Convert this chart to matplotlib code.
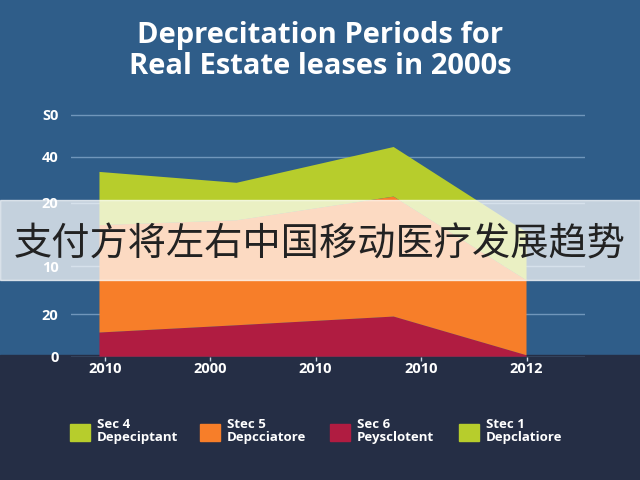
import matplotlib
matplotlib.use("Agg")
import matplotlib.pyplot as plt
from matplotlib.patches import Rectangle

# 数据
x_pos = [-0.05, 1.25, 2.74, 4.0]
sec6 = [5.0, 6.5, 8.3, 0.3]
sec5 = [22.2, 21.7, 24.8, 15.5]
sec4 = [11.0, 7.75, 10.25, 9.95]

x_ticks = [0, 1, 2, 3, 4]
x_labels = ["2010", "2000", "2010", "2010", "2012"]
y_ticks = [0, 8.8, 18.7, 31.8, 41.3, 50]
y_labels = ["0", "20", "10", "20", "40", "S0"]

legend_labels = ["Sec 4\nDepeciptant", "Stec 5\nDepcciatore",
                 "Sec 6\nPeysclotent", "Stec 1\nDepclatiore"]

title = "Deprecitation Periods for\nReal Estate leases in 2000s"
banner = "支付方将左右中国移动医疗发展趋势"

c_green = "#b7cd2c"
c_orange = "#f77e29"
c_red = "#b01c41"
c_blue = "#2f5d89"
c_dark = "#252e45"

plt.rcParams["font.family"] = ["Open Sans", "DejaVu Sans"]

fig = plt.figure(figsize=(6.4, 4.8), dpi=100, facecolor=c_blue)
# 底部深色区域
fig.add_artist(Rectangle((0, 0), 1, 125 / 480, transform=fig.transFigure,
                         color=c_dark, zorder=0))

ax = fig.add_axes([71 / 640, 123.3 / 480, 513.5 / 640, 246.7 / 480])
ax.set_facecolor("none")
ax.stackplot(x_pos, sec6, sec5, sec4, colors=[c_red, c_orange, c_green],
             linewidth=0, zorder=3)
ax.set_xlim(-0.32, 4.55)
ax.set_ylim(0, 51)
ax.set_yticks(y_ticks)
ax.set_yticklabels(y_labels)
ax.set_xticks(x_ticks)
ax.set_xticklabels(x_labels)
ax.grid(axis="y", color="#7096bb", linewidth=1, zorder=1)
for s in ax.spines.values():
    s.set_visible(False)
ax.tick_params(axis="y", length=0, pad=9, labelcolor="white", labelsize=10.5)
ax.tick_params(axis="x", length=3, width=1, color="#c8d4e0", pad=1,
               labelcolor="white", labelsize=10.5)
for t in ax.get_xticklabels() + ax.get_yticklabels():
    t.set_fontweight("bold")

fig.text(0.5, 0.893, title, ha="center", va="center", color="white",
         fontsize=21, fontweight="bold", linespacing=1.1)

# 图例
lx = [70, 200, 330, 459]
for i, lab in enumerate(legend_labels):
    col = [c_green, c_orange, c_red, c_green][i]
    fig.add_artist(Rectangle((lx[i] / 640, (480 - 441) / 480), 20 / 640, 17 / 480,
                             transform=fig.transFigure, color=col))
    fig.text((lx[i] + 27) / 640, (480 - 431) / 480, lab, ha="left", va="center",
             color="white", fontsize=9.5, fontweight="bold", linespacing=1.0)

# 横幅
fig.add_artist(Rectangle((0, 200 / 480), 1, 80 / 480, transform=fig.transFigure,
                         color="white", alpha=0.72, zorder=10))
fig.text(0.5, (480 - 245) / 480, banner, ha="center", va="center",
         color="#222222", fontsize=27.5, family=["Noto Sans CJK SC", "DejaVu Sans"],
         zorder=11)

plt.savefig("out.png", dpi=100, facecolor=fig.get_facecolor())
